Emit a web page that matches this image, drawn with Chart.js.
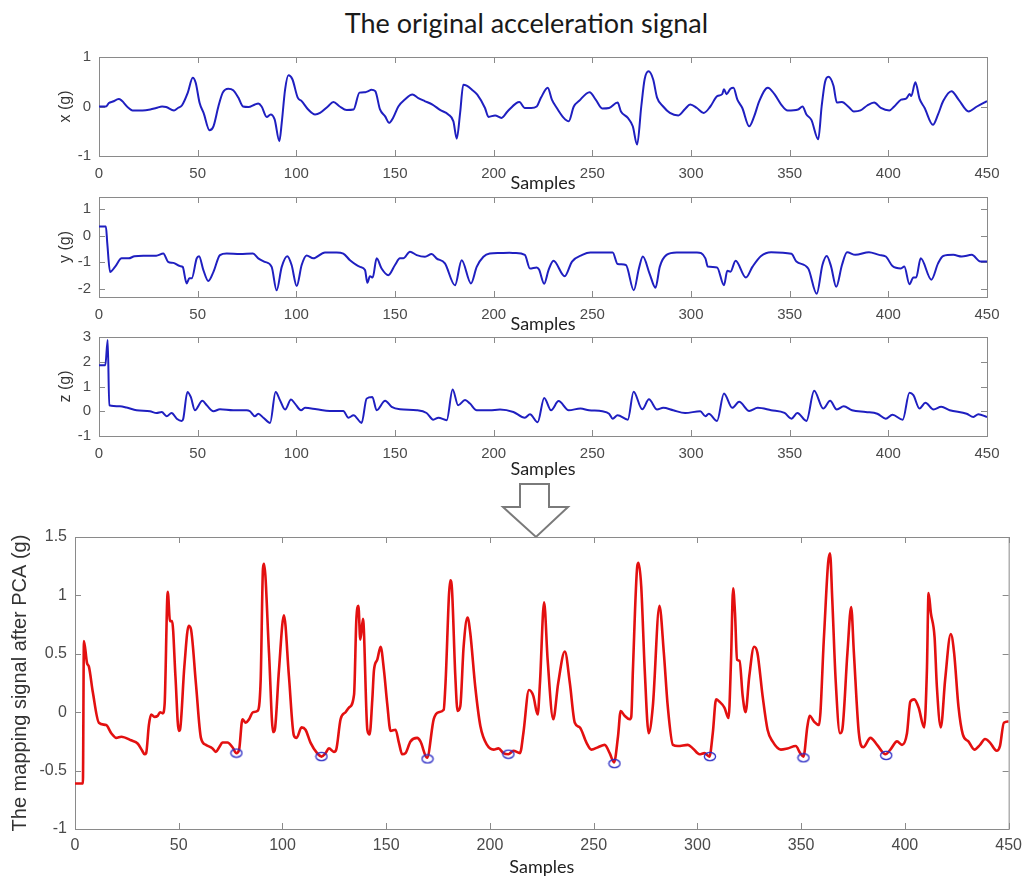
<!DOCTYPE html>
<html>
<head>
<meta charset="utf-8">
<title>Acceleration signal and PCA mapping</title>
<script src="https://cdn.jsdelivr.net/npm/chart.js@4/dist/chart.umd.min.js"></script>
<style>
  html, body { margin: 0; padding: 0; background: #fff; overflow: hidden; }
  #page { position: relative; width: 1029px; height: 876px; }
  #page canvas { position: absolute; left: 0; }
  #mainTitle {
    position: absolute; left: 0; width: 1053px; top: 6px;
    text-align: center; font: 27px Lato, sans-serif; color: #1a1a1a; line-height: 34px;
  }
  #arrow { position: absolute; left: 0; top: 0; }
</style>
</head>
<body>
<div id="page">
  <div id="mainTitle">The original acceleration signal</div>
  <svg id="arrow" width="1029" height="876">
    <polygon points="520,484 549,484 549,507 568,507 536,537 503,507 520,507"
             fill="#fff" stroke="#7a7a7a" stroke-width="2" stroke-linejoin="miter"/>
  </svg>
  <canvas id="chartX" width="1029" height="166" style="top:40px"></canvas>
  <canvas id="chartY" width="1029" height="167" style="top:180px"></canvas>
  <canvas id="chartZ" width="1029" height="166" style="top:320px"></canvas>
  <canvas id="chartPca" width="1029" height="361" style="top:517px"></canvas>
</div>
<script>
// ---- data (sample index, value in g) ----
const sampleTicks = [0, 50, 100, 150, 200, 250, 300, 350, 400, 450];
const xTicks = [-1, 0, 1];
const yTicks = [-2, -1, 0, 1];
const zTicks = [-1, 0, 1, 2, 3];
const pcaTicks = [-1, -0.5, 0, 0.5, 1, 1.5];

const accXSamples = [0, 3.5, 5, 7, 10, 15, 17, 22, 26, 29, 32, 34, 38, 40, 42, 45, 47.5, 49, 51, 53, 56, 58, 60.5, 62.7, 65.5, 68, 70.6, 73, 75.7, 79, 80.7, 82.4, 85, 87, 89, 91.4, 92.6, 94.3, 96, 98, 100.7, 102.7, 106, 109.5, 112, 116, 118.8, 122, 125.5, 129, 132, 135, 136.5, 138, 140, 142.4, 145, 147, 149, 151.7, 155, 158.8, 161.8, 165, 169, 172.8, 177, 179.6, 181.3, 183, 184.6, 186.3, 189, 191.7, 195.6, 197.4, 200.7, 204, 207, 211.5, 213, 215.8, 219, 221.8, 224, 227.4, 229.5, 232, 235.5, 238, 240.6, 243.2, 248.6, 251.7, 255, 258.5, 262.8, 264.5, 268, 270.5, 272.7, 274.8, 276.5, 278.5, 280.8, 282.8, 285.9, 289.3, 293.6, 297, 299.6, 303, 306.4, 309.8, 313.3, 315.8, 316.7, 318, 320, 321.5, 323.5, 326, 329.5, 332, 334.6, 338.9, 342.3, 345.7, 349, 354.3, 356.5, 358.5, 361, 364.5, 366.2, 367.9, 369.6, 372.2, 373.9, 376.5, 379.9, 382.5, 385.9, 389.3, 392.8, 396.2, 400.5, 403, 406.5, 409, 410.8, 411.6, 413.7, 415.8, 418.4, 422.6, 425.2, 427.8, 432, 435.6, 440.7, 444.9, 450];
const accXValues = [0, 0, 0.07, 0.1, 0.15, -0.03, -0.08, -0.08, -0.06, -0.03, 0, -0.01, -0.08, -0.03, 0.02, 0.28, 0.58, 0.48, 0.07, -0.13, -0.48, -0.4, 0, 0.28, 0.36, 0.33, 0.18, 0, -0.01, 0.04, 0.06, 0, -0.21, -0.16, -0.26, -0.7, -0.33, 0.34, 0.63, 0.55, 0.18, 0.11, -0.06, -0.16, -0.13, 0, 0.09, 0, -0.07, -0.06, 0.28, 0.29, 0.31, 0.34, 0.31, -0.06, -0.2, -0.33, -0.23, 0, 0.14, 0.24, 0.17, 0.11, 0.04, -0.07, -0.16, -0.3, -0.65, -0.13, 0.44, 0.42, 0.34, 0.24, -0.03, -0.21, -0.18, -0.23, -0.1, 0.07, 0.09, -0.03, -0.03, 0, 0.18, 0.38, 0.14, -0.03, -0.23, -0.3, 0, 0.11, 0.29, 0.14, -0.04, -0.03, 0.08, -0.1, -0.23, -0.4, -0.77, 0, 0.55, 0.71, 0.55, 0.18, 0, -0.13, -0.18, -0.05, 0.04, -0.03, -0.13, 0, 0.21, 0.25, 0.35, 0.25, 0.36, 0.38, 0.14, -0.03, -0.4, -0.2, 0.11, 0.38, 0.25, 0.04, -0.08, -0.06, 0, -0.16, -0.27, -0.66, 0, 0.49, 0.6, 0.42, 0.08, 0.09, -0.01, -0.1, -0.08, 0.02, 0.08, -0.03, -0.08, 0, 0.14, 0.16, 0.25, 0.21, 0.49, 0.16, -0.03, -0.37, -0.16, 0.11, 0.31, 0.14, -0.1, 0, 0.11];

const accYSamples = [0, 3.5, 4.2, 5.6, 8.1, 11.5, 15, 18, 22.5, 29, 32.6, 35, 37.7, 41, 42.4, 44.4, 45.8, 47, 49.5, 50.7, 52.9, 55.4, 58, 61.3, 64.7, 71.5, 78, 80.7, 84, 87.5, 90, 92.6, 95.4, 97.6, 100.2, 102.7, 105.2, 108.6, 114.5, 120.4, 123.8, 127.2, 132.3, 134.8, 136, 137.3, 138.7, 140.7, 143.2, 146.6, 150, 152.5, 154.2, 157.6, 161, 165.2, 168.6, 171, 175.3, 180.4, 183.8, 188.5, 191.4, 194.8, 198, 203, 208, 210.7, 215.8, 218.4, 221.8, 223, 225.6, 227.8, 230.3, 236, 239.7, 244.9, 249, 260.3, 262.8, 267, 271, 273.6, 275.6, 279, 282, 284.2, 287.6, 292.7, 303, 307.3, 308.5, 313.2, 316.7, 318.4, 320, 322.6, 327.8, 331.2, 335.5, 340.6, 350.9, 353.4, 359.4, 363.7, 366.6, 368.8, 371, 373.6, 376.5, 379.1, 383.3, 390.2, 395.3, 398.7, 402.1, 406.4, 408.1, 410.7, 412.7, 414.1, 416.4, 421.8, 425.2, 427.8, 432.9, 437.2, 442.3, 446.6, 450];
const accYValues = [0.34, 0.34, -0.29, -1.36, -1.17, -0.85, -0.85, -0.77, -0.75, -0.75, -0.67, -0.98, -1.02, -1.14, -1.17, -1.79, -1.6, -1.6, -0.85, -0.77, -1.29, -1.7, -1.36, -0.73, -0.67, -0.69, -0.67, -0.85, -0.98, -1.17, -2.05, -1.17, -0.77, -1.1, -1.89, -1.1, -0.74, -0.85, -0.63, -0.63, -0.67, -0.92, -1.17, -1.29, -1.77, -1.52, -1.57, -0.85, -1.23, -1.48, -1.1, -0.85, -0.85, -0.6, -0.73, -0.79, -0.69, -0.85, -1.04, -1.86, -0.92, -1.79, -1.17, -0.79, -0.67, -0.65, -0.64, -0.65, -0.72, -1.23, -1.19, -1.27, -1.8, -1.29, -0.94, -1.52, -0.97, -0.72, -0.63, -0.63, -1.06, -1.1, -2.05, -1.23, -0.78, -1.42, -1.95, -1.16, -0.72, -0.63, -0.63, -0.85, -1.16, -1.19, -1.86, -1.32, -1.35, -0.94, -1.57, -1.16, -0.76, -0.62, -0.68, -0.97, -1.23, -2.18, -1.1, -0.76, -1.16, -1.92, -1.1, -0.62, -0.72, -0.62, -0.72, -0.78, -1.14, -1.23, -1.16, -1.82, -1.57, -1.57, -0.85, -1.65, -1.04, -0.76, -0.72, -0.78, -0.72, -0.97, -0.97];

const accZSamples = [0, 3.2, 4.4, 5.2, 10.6, 14, 19, 25.8, 29.2, 31.8, 34.3, 36.8, 39.4, 41.9, 42.7, 44.8, 46.5, 48.6, 52.4, 54.6, 58, 61.3, 68, 74.8, 76.5, 79, 80.7, 83.3, 86.7, 89.5, 91.7, 94.3, 97.3, 99.3, 102.4, 104.4, 110.3, 117, 123.8, 126.4, 129, 133.1, 135.6, 138.5, 140.7, 145, 148.3, 152.5, 161, 166, 169.4, 172, 176.2, 179.2, 182, 185.5, 188, 191.4, 198, 203.2, 210, 215.8, 218.4, 222.3, 225.6, 229.1, 232.9, 238, 244, 248.3, 255.1, 258.5, 260.3, 262.8, 268, 270.9, 275.3, 278.7, 282.8, 285.9, 291, 297, 304.7, 307.3, 309, 313.2, 316.7, 320.9, 324.4, 329.5, 333.8, 340.6, 347.4, 350.9, 353.9, 358.5, 362.4, 367, 370.5, 373.9, 377.4, 381.6, 388.5, 394.4, 398.7, 402.1, 407.3, 410.7, 412.7, 415.8, 418.8, 422.9, 426.8, 431.1, 439.7, 443.1, 445.6, 450];
const accZValues = [1.86, 1.86, 2.88, 0.24, 0.2, 0.15, 0.04, 0, -0.07, -0.03, -0.2, -0.07, -0.3, -0.39, -0.3, 0.78, 0.58, 0.04, 0.42, 0.24, 0, 0.08, 0.04, 0.04, 0, -0.2, -0.1, -0.26, -0.47, 0.78, 0.45, 0.07, 0.47, 0.31, 0.04, 0.14, 0.08, 0.01, 0.01, -0.26, -0.16, -0.47, 0.51, 0.58, 0.04, 0.42, 0.18, 0.08, 0.04, -0.07, -0.34, -0.26, -0.36, 0.88, 0.24, 0.45, 0.31, 0.04, 0.04, 0.07, -0.03, -0.26, -0.12, -0.44, 0.54, 0.04, 0.41, 0.04, 0.11, 0.04, 0, -0.1, -0.3, -0.16, -0.34, 0.79, 0.08, 0.48, 0.07, 0.14, 0.04, -0.07, 0, -0.2, -0.1, -0.39, 0.72, 0.14, 0.38, 0.01, 0.14, 0.04, -0.07, -0.3, -0.07, -0.39, 0.83, 0.11, 0.42, 0.07, 0.2, 0.04, -0.03, -0.1, -0.3, -0.14, -0.34, 0.75, 0.65, 0.11, 0.34, 0.07, 0.18, 0.04, -0.1, -0.23, -0.12, -0.23];

const pcaSamples = [0, 3.8, 4.3, 5.8, 6.7, 8.6, 11.5, 15, 17.5, 19.9, 22.3, 27, 30.3, 32.4, 33.5, 34.3, 35.6, 36.7, 38.3, 39.9, 41, 42.3, 43.2, 44.7, 45.8, 46.8, 48.4, 50, 50.6, 52.7, 54.8, 55.9, 58.3, 60.7, 63.1, 66.3, 67.9, 69.5, 71.1, 73.5, 75.9, 77.8, 79.1, 80.7, 82.3, 83.9, 85.8, 87.9, 89.5, 90.6, 91.1, 93.5, 95.5, 96.3, 98.3, 100.7, 103.1, 105.5, 106.8, 109.2, 111.1, 113.5, 116.7, 118.8, 120.8, 122.4, 124.8, 125.9, 128, 130.4, 132.1, 134.5, 135.6, 136.6, 137.5, 138.8, 140.9, 142, 143.3, 144.1, 145.7, 147.3, 148.9, 150.5, 152.1, 154.5, 156.1, 157.7, 159.3, 161.7, 164.9, 166.5, 169.7, 172.9, 175.3, 177.7, 178.5, 180.9, 181.7, 183.3, 184.4, 185.7, 187.3, 189.2, 190.5, 192.9, 195.4, 198.6, 201.8, 204.1, 206.5, 208.9, 211.3, 214.5, 216.1, 218.8, 220.9, 223, 224.1, 226.1, 227.8, 230.5, 232.9, 236.1, 238.5, 240.9, 243.3, 246.5, 248.9, 252.1, 255.3, 257.7, 259.8, 261.7, 263, 264.9, 267.3, 268.1, 268.9, 271, 271.6, 272.9, 274.6, 276.5, 278.5, 281.7, 283.8, 285.7, 288.2, 290.6, 295.4, 297.8, 301, 303.4, 305.8, 307.4, 309, 310.6, 313, 315, 316.2, 317.2, 318.1, 319.1, 320.3, 321.8, 323.2, 325, 327.3, 328.9, 331.4, 333.8, 336.2, 340.2, 343.4, 347.4, 349.5, 351.1, 353, 354.1, 356.2, 358.6, 361, 363, 363.9, 365, 366.6, 368.7, 369.8, 372.3, 374.1, 375.4, 377.8, 379.9, 383.4, 386.6, 390.6, 393, 396.2, 398.6, 401, 402.6, 404.5, 406.6, 409.3, 410.6, 411.4, 412.5, 414.3, 415.4, 417.3, 419.4, 422.1, 423.7, 425.8, 427.9, 430.6, 433.5, 436.2, 438.6, 441, 444.2, 445.8, 447.7, 450];
const pcaValues = [-0.61, -0.61, 0.61, 0.42, 0.39, 0.17, -0.09, -0.11, -0.18, -0.22, -0.21, -0.24, -0.27, -0.33, -0.36, -0.35, -0.11, -0.02, -0.04, -0.03, 0, -0.01, 0.07, 1.03, 0.78, 0.78, 0.31, -0.16, -0.15, 0.39, 0.74, 0.71, 0.24, -0.22, -0.28, -0.31, -0.34, -0.3, -0.26, -0.26, -0.3, -0.35, -0.32, -0.06, -0.09, -0.06, 0, 0.01, 0.28, 1.23, 1.27, 0.51, -0.17, -0.15, 0.36, 0.83, 0.31, -0.2, -0.22, -0.13, -0.15, -0.26, -0.35, -0.38, -0.35, -0.31, -0.34, -0.32, -0.06, 0, 0.04, 0.15, 0.79, 0.91, 0.62, 0.8, -0.15, -0.19, 0.11, 0.36, 0.45, 0.56, 0.36, 0.07, -0.16, -0.15, -0.26, -0.36, -0.35, -0.25, -0.22, -0.25, -0.39, -0.06, 0, 0.02, 0.22, 1.13, 1.05, 0.31, 0.01, 0.05, 0.56, 0.81, 0.68, 0.22, -0.12, -0.28, -0.32, -0.31, -0.35, -0.36, -0.33, -0.35, -0.18, 0.19, 0.14, -0.02, 0.25, 0.94, 0.45, -0.06, 0.25, 0.52, 0.25, -0.09, -0.13, -0.26, -0.32, -0.3, -0.28, -0.35, -0.43, -0.21, 0.01, -0.03, -0.06, -0.04, 0.36, 1.25, 1.28, 1.08, 0.36, -0.18, 0.05, 0.91, 0.51, 0.05, -0.28, -0.29, -0.28, -0.31, -0.36, -0.35, -0.38, -0.18, 0.11, 0.09, 0.04, -0.05, 0.45, 1.06, 0.85, 0.45, 0.44, 0.14, 0, 0.31, 0.56, 0.51, 0.14, -0.15, -0.25, -0.32, -0.31, -0.29, -0.35, -0.38, -0.12, -0.03, -0.08, -0.11, 0.65, 1.28, 1.36, 0.96, 0.28, -0.18, -0.15, 0.51, 0.9, 0.51, -0.18, -0.3, -0.22, -0.28, -0.36, -0.32, -0.25, -0.28, -0.18, 0.09, 0.11, 0.04, -0.13, 0.36, 1.02, 0.85, 0.64, 0.22, -0.13, 0.28, 0.67, 0.51, 0.05, -0.19, -0.25, -0.32, -0.28, -0.23, -0.26, -0.33, -0.29, -0.09, -0.08];

// circled minima on the mapped signal
const minimaSamples = [77.8, 118.8, 169.9, 208.9, 260, 306, 351.1, 391];
const minimaValues = [-0.35, -0.38, -0.4, -0.36, -0.44, -0.38, -0.39, -0.37];

const tickFont = "'Liberation Sans', Arial, sans-serif";
const labelFont = "Lato, sans-serif";

function toPoints(xs, ys) {
    return xs.map((s, i) => ({ x: s, y: ys[i] }));
}

// small blue ellipse used as the marker for the minima
function ellipseMarker() {
    const c = document.createElement("canvas");
    c.width = 14; c.height = 11;
    const g = c.getContext("2d");
    g.strokeStyle = "#2b2bc4";
    g.lineWidth = 1.3;
    g.beginPath();
    g.ellipse(7, 5.5, 5.6, 4.1, 0, 0, Math.PI * 2);
    g.stroke();
    return c;
}

// MATLAB-like box with inward ticks on all four sides
const boxPlugin = {
    id: "matlabBox",
    beforeDatasetsDraw(chart) {
        const { ctx, chartArea: a, scales: { x, y } } = chart;
        const len = 6;
        ctx.save();
        ctx.strokeStyle = "#8a8a8a";
        ctx.lineWidth = 1;
        ctx.strokeRect(a.left + 0.5, a.top + 0.5, a.right - a.left, a.bottom - a.top);
        ctx.beginPath();
        x.ticks.forEach(t => {
            const px = Math.round(x.getPixelForValue(t.value)) + 0.5;
            ctx.moveTo(px, a.bottom); ctx.lineTo(px, a.bottom - len);
            ctx.moveTo(px, a.top); ctx.lineTo(px, a.top + len);
        });
        y.ticks.forEach(t => {
            const py = Math.round(y.getPixelForValue(t.value)) + 0.5;
            ctx.moveTo(a.left, py); ctx.lineTo(a.left + len, py);
            ctx.moveTo(a.right, py); ctx.lineTo(a.right - len, py);
        });
        ctx.stroke();
        ctx.restore();
    }
};

function makeChart(id, cfg) {
    const datasets = [{
        data: toPoints(cfg.xs, cfg.ys),
        showLine: true,
        borderColor: cfg.color,
        borderWidth: cfg.lineWidth,
        pointRadius: 0,
        cubicInterpolationMode: "monotone",
        order: 2
    }];
    if (cfg.marks) {
        datasets.push({
            data: toPoints(cfg.marks[0], cfg.marks[1]),
            showLine: false,
            pointStyle: ellipseMarker(),
            pointRadius: 6,
            order: 1
        });
    }

    return new Chart(document.getElementById(id), {
        type: "scatter",
        data: { datasets },
        options: {
            responsive: false,
            animation: false,
            events: [],
            layout: { padding: { top: cfg.padTop, right: cfg.padRight, left: 0, bottom: 0 } },
            plugins: { legend: { display: false }, tooltip: { enabled: false } },
            scales: {
                x: {
                    type: "linear",
                    min: 0, max: 450,
                    afterBuildTicks: s => { s.ticks = sampleTicks.map(v => ({ value: v })); },
                    afterFit: s => { s.height = cfg.xAxisHeight; },
                    grid: { display: false, drawTicks: false },
                    border: { display: false },
                    ticks: {
                        autoSkip: false, maxRotation: 0, padding: cfg.xTickPad,
                        color: "#4a4a4a", font: { family: tickFont, size: cfg.tickSize },
                        callback: v => String(v)
                    },
                    title: {
                        display: true, text: "Samples", color: "#1e1e1e",
                        font: { family: labelFont, size: 18 },
                        padding: { top: 0, bottom: cfg.samplesPad }
                    }
                },
                y: {
                    type: "linear",
                    min: cfg.yMin, max: cfg.yMax,
                    afterBuildTicks: s => { s.ticks = cfg.yTicks.map(v => ({ value: v })); },
                    afterFit: s => { s.width = cfg.yAxisWidth; },
                    grid: { display: false, drawTicks: false },
                    border: { display: false },
                    ticks: {
                        padding: 8,
                        color: "#4a4a4a", font: { family: tickFont, size: cfg.tickSize },
                        callback: v => String(v)
                    },
                    title: {
                        display: true, text: cfg.yTitle, color: "#333",
                        font: { family: tickFont, size: cfg.yTitleSize },
                        padding: { top: cfg.yTitlePad, bottom: 0 }
                    }
                }
            }
        },
        plugins: [boxPlugin]
    });
}

const smallBase = {
    padTop: 17, padRight: 42, yAxisWidth: 99, xAxisHeight: 50,
    xTickPad: 9, tickSize: 15, color: "#1f1fc0", lineWidth: 2,
    yTitleSize: 16, yTitlePad: 56
};

makeChart("chartX", Object.assign({}, smallBase, {
    xs: accXSamples, ys: accXValues, yMin: -1, yMax: 1, yTicks: xTicks,
    yTitle: "x (g)", samplesPad: 12
}));

makeChart("chartY", Object.assign({}, smallBase, {
    xs: accYSamples, ys: accYValues, yMin: -2.3, yMax: 1.45, yTicks: yTicks,
    yTitle: "y (g)", samplesPad: 12
}));

makeChart("chartZ", Object.assign({}, smallBase, {
    xs: accZSamples, ys: accZValues, yMin: -1, yMax: 3, yTicks: zTicks,
    yTitle: "z (g)", samplesPad: 6
}));

makeChart("chartPca", {
    xs: pcaSamples, ys: pcaValues, marks: [minimaSamples, minimaValues],
    yMin: -1, yMax: 1.5, yTicks: pcaTicks,
    padTop: 20, padRight: 17, yAxisWidth: 75, xAxisHeight: 49,
    xTickPad: 7, tickSize: 16, color: "#e31010", lineWidth: 2.6,
    yTitle: "The mapping signal after PCA (g)", yTitleSize: 20, yTitlePad: 8,
    samplesPad: 0
});
</script>
</body>
</html>
